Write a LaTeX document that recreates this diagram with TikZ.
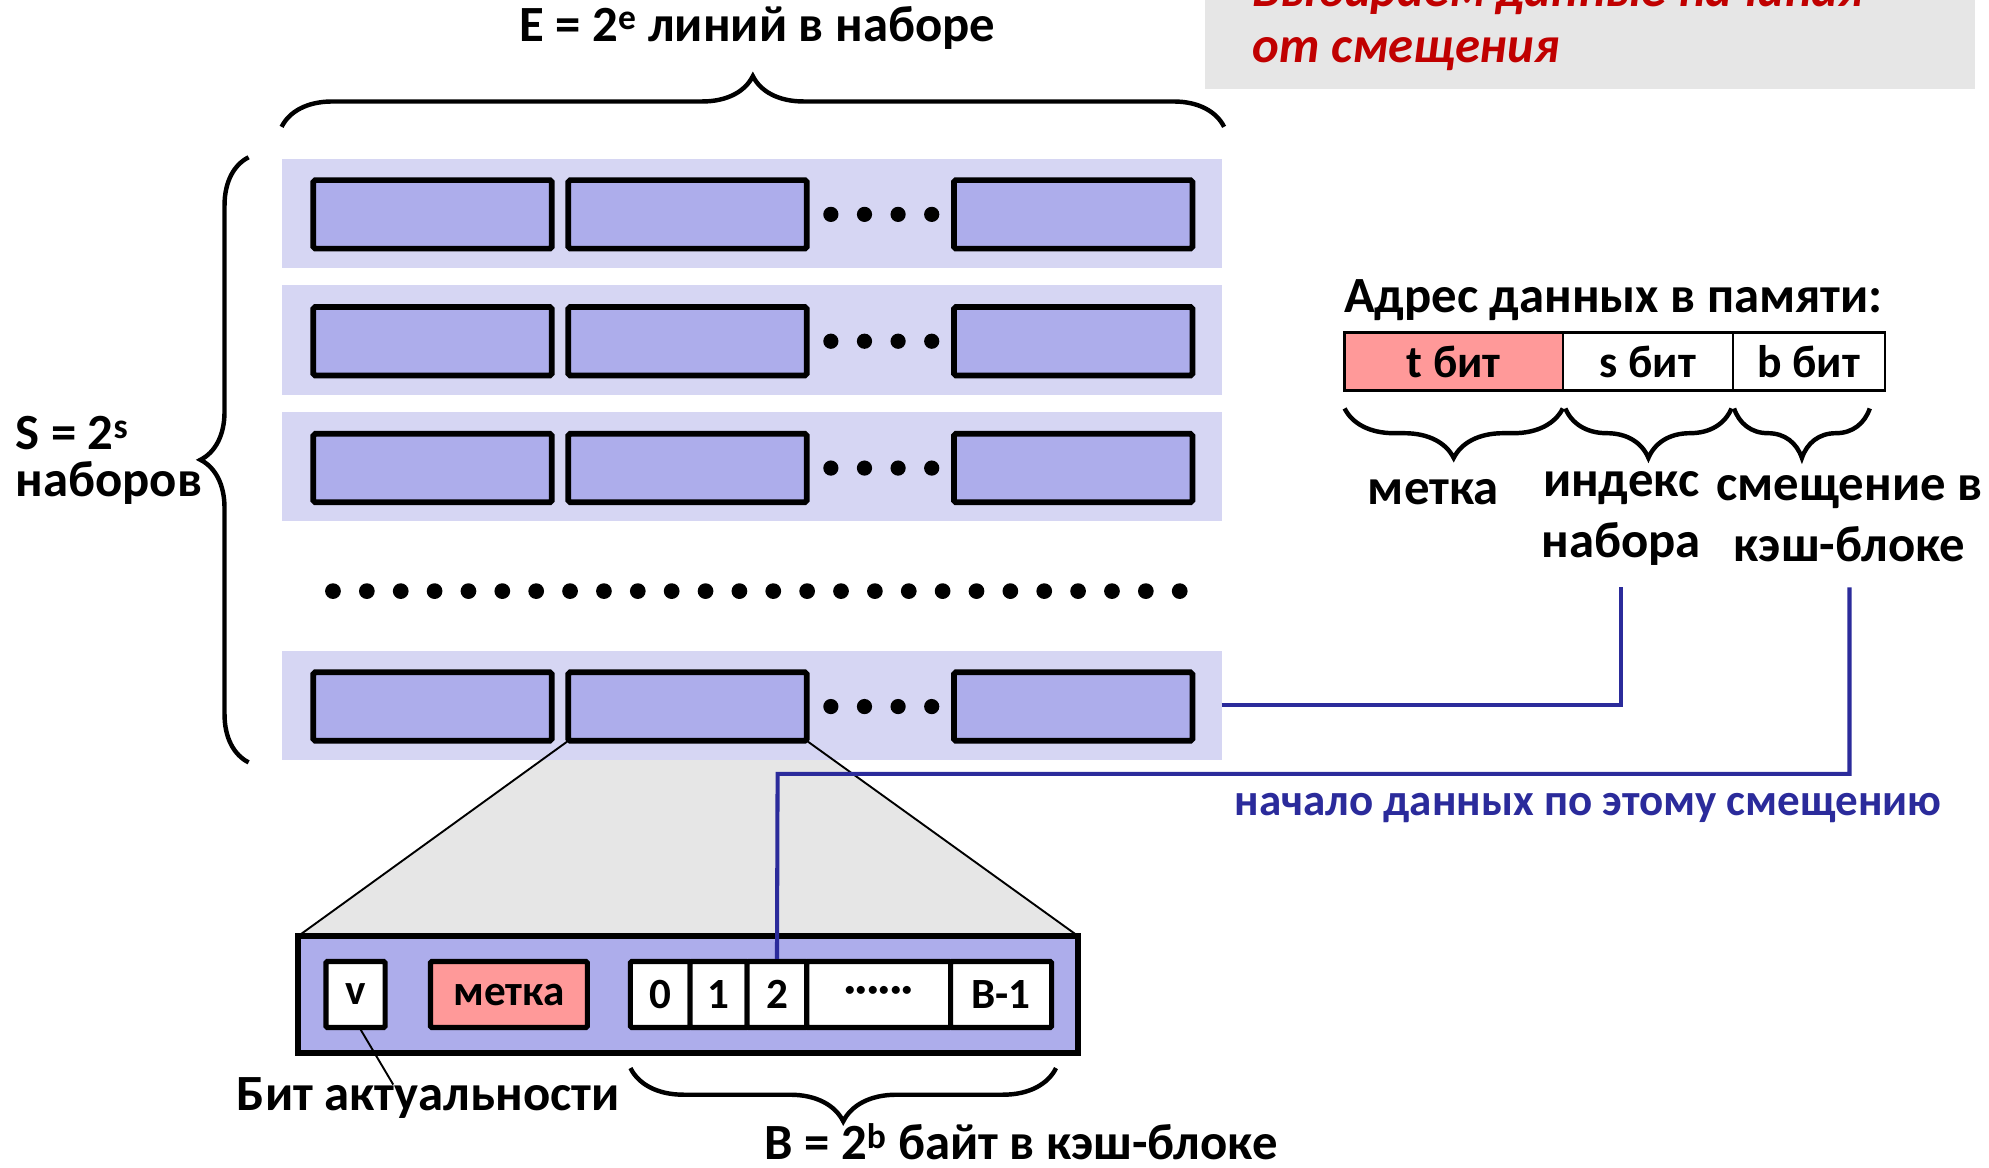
\documentclass[tikz,border=0pt]{standalone}
\usepackage{fontspec}
\setmainfont{Carlito}
\usetikzlibrary{positioning,decorations.pathreplacing,backgrounds}

\definecolor{setbg}{RGB}{214,214,243}
\definecolor{linefill}{RGB}{173,173,235}
\definecolor{tagpink}{RGB}{255,153,153}
\definecolor{wireblue}{RGB}{43,43,155}
\definecolor{notegray}{RGB}{230,230,230}
\definecolor{notered}{RGB}{192,0,0}

\tikzset{every picture/.style={line width=0.75pt}}
\tikzset{
  setrow/.style={fill=setbg,minimum width=741pt,minimum height=86pt,inner sep=0pt,outer sep=0pt},
  lineblk/.style={draw,fill=linefill,line width=4.5pt,rounded corners=1.5pt,minimum width=188pt,minimum height=54pt,inner sep=0pt,outer sep=0pt},
  fieldbox/.style={draw,line width=2pt,minimum height=46pt,inner sep=0pt,outer sep=0pt,font=\fontsize{36}{40}\selectfont\bfseries},
  cellbox/.style={draw,fill=white,line width=4pt,rounded corners=1pt,minimum height=52pt,inner sep=0pt,outer sep=0pt,font=\fontsize{34}{38}\selectfont\bfseries},
  txt/.style={inner sep=0pt,font=\fontsize{40}{48}\selectfont\bfseries,align=center},
  wire/.style={draw=wireblue,line width=3.2pt},
  curly/.style={decorate,decoration={brace,amplitude=#1},line width=3.5pt},
  notetxt/.style={anchor=base west,inner sep=0pt,text=notered,font=\fontsize{40}{48}\selectfont\bfseries\itshape}
}

\begin{document}
\begin{tikzpicture}[x=1pt,y=1pt,yscale=-1,xscale=1]
	\useasboundingbox (0,0) rectangle (1568,920);
	%Shape: Rectangle [note]
	\fill[notegray] (950,-5) rectangle (1557,70);
	% Text Node
	\node[notetxt] (note1) at (987,5) {Выбираем данные начиная};
	% Text Node
	\node[notetxt] (note2) at (987,49) {от смещения};

	% sets and their lines
	\foreach \y [count=\i] in {168,268,368,556}{
		\node[setrow] (row\i) at (592.5,\y) {};
		\node[lineblk] (ln\i-1) at (341,\y+1) {};
		\node[lineblk] (ln\i-2) at (542,\y+1) {};
		\node[lineblk] (ln\i-3) at (846,\y+1) {};
		\foreach \x in {655,681.5,708,734.5}
			\fill (\x,\y+1) circle (6);
	}
	% dots between sets
	\foreach \k in {0,...,25}
		\fill (262.5+26.7*\k,466) circle (6.2);

	%Shape: Braces
	\draw[curly=40] ([yshift=-25pt]row1.north west) -- ([yshift=-25pt,xshift=2pt]row1.north east);
	\draw[curly=38] ([xshift=-26pt,yshift=2pt]row4.south west) -- ([xshift=-26pt,yshift=-1pt]row1.north west);

	% Text Node
	\node[txt] (etitle) at (597,22) {E = 2\textsuperscript{e} линий в наборе};
	% Text Node
	\node[txt,align=left,anchor=west,font=\fontsize{40}{37}\selectfont\bfseries] (stitle) at (12,363) {S = 2\textsuperscript{s}\\наборов};

	% cache line in detail
	\node[lineblk,minimum width=615pt,minimum height=92pt,rounded corners=0pt] (detail) at (542.5,784) {};
	\begin{scope}[on background layer]
		\fill[notegray] (ln4-2.south west) -- (ln4-2.south east) -- (detail.north east) -- (detail.north west) -- cycle;
	\end{scope}
	\draw[line width=1.5pt] (ln4-2.south west) -- (detail.north west);
	\draw[line width=1.5pt] (ln4-2.south east) -- (detail.north east);

	\node[cellbox,minimum width=46.6pt] (vbit) at (280.3,784) {v};
	\node[cellbox,fill=tagpink,minimum width=123.6pt] (tag) at (401.2,784) {метка};
	\node[cellbox,minimum width=47pt] (c0) at (520.5,784) {0};
	\node[cellbox,minimum width=45pt,right=0pt of c0] (c1) {1};
	\node[cellbox,minimum width=47pt,right=0pt of c1] (c2) {2};
	\node[cellbox,minimum width=113.4pt,right=0pt of c2] (cdots) {\raisebox{-5pt}{······}};
	\node[cellbox,minimum width=79.6pt,right=0pt of cdots] (cB) {B-1};

	\draw[curly=42] ([xshift=3.5pt,yshift=32pt]cB.south east) -- ([yshift=32pt]c0.south west);

	% Text Node
	\node[txt] (validl) at (337.5,866) {Бит актуальности};
	\coordinate (vtip) at (310,855);
	\draw[line width=1.5pt] ([xshift=3pt]vbit.south) -- (vtip);
	% Text Node
	\node[txt] (bsize) at (805,900) {B = 2\textsuperscript{b} байт в кэш-блоке};

	% address
	\node[txt] (addr) at (1272,237) {Адрес данных в памяти:};
	\node[fieldbox,fill=tagpink,minimum width=172pt] (tf) at (1146,285) {t бит};
	\node[fieldbox,minimum width=134pt,right=0pt of tf] (sf) {s бит};
	\node[fieldbox,minimum width=120pt,right=0pt of sf] (bf) {b бит};
	\draw[curly=39] ([yshift=14pt]tf.south east) -- ([yshift=14pt]tf.south west);
	\draw[curly=39] ([xshift=-1pt,yshift=14pt]sf.south east) -- ([xshift=2pt,yshift=14pt]sf.south west);
	\draw[curly=39] ([xshift=-12pt,yshift=14pt]bf.south east) -- ([xshift=1pt,yshift=14pt]bf.south west);
	% Text Node
	\node[txt] (tagl) at (1130,388) {метка};
	% Text Node
	\node[txt] (idxl) at (1278,409) {индекс\\набора};
	% Text Node
	\node[txt] (offl) at (1458,409) {смещение в\\кэш-блоке};

	% wires
	\coordinate (idxtop) at (1278,463);
	\coordinate (offtop) at (1458,463);
	\coordinate (offbend) at (613,610);
	\draw[wire] (row4.east) -| (idxtop);
	\draw[wire,shorten >=2pt] (offtop) |- (offbend) -- (c2.north);
	% Text Node
	\node[txt,text=wireblue,font=\fontsize{35.5}{40}\selectfont\bfseries] (startl) at (1252,637) {начало данных по этому смещению};
\end{tikzpicture}
\end{document}
